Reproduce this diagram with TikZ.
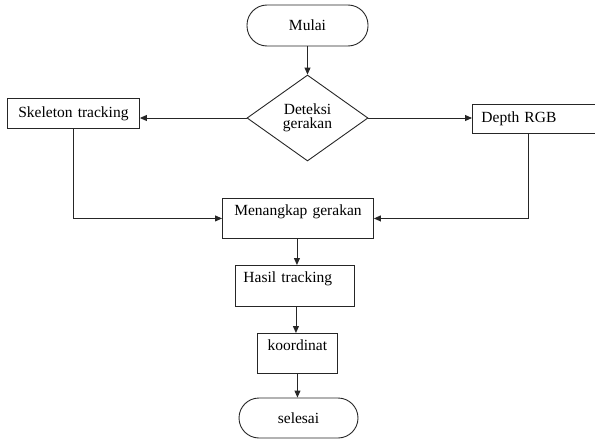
\documentclass[tikz,border=0pt]{standalone}
\usepackage{fontspec}
\setmainfont{Liberation Serif}
\usetikzlibrary{shapes.geometric,arrows.meta}
\begin{document}
\begin{tikzpicture}[x=1pt,y=-1pt,
  every node/.style={font=\fontsize{15.5}{14}\selectfont, text=black},
  line/.style={draw=black!85, line width=0.9pt},
  arr/.style={line, -{Triangle[length=7pt,width=6pt]}},
  box/.style={line, rectangle, anchor=north west, inner ysep=0pt, inner xsep=0pt},
  term/.style={line, rectangle, rounded corners=20pt, inner sep=0pt},
  dec/.style={line, diamond, inner sep=0pt, align=center}]
\useasboundingbox (0,0) rectangle (595,439);
\node[term, minimum width=121pt, minimum height=41pt] (mulai) at (307.5,25.5) {Mulai};
\node[dec, minimum width=121pt, minimum height=86pt] (det) at (307.5,118) {Deteksi\\gerakan};
\node[box, text width=132pt, align=center, text height=19pt, text depth=11pt] (skel) at (7,98) {Skeleton tracking};
\node[box, inner xsep=9pt, text width=110pt, align=left, text height=18pt, text depth=11pt] (depth) at (472,104) {Depth RGB};
\node[box, text width=151pt, align=center, text height=17pt, text depth=23pt] (men) at (222,198) {Menangkap gerakan};
\node[box, inner xsep=8pt, text width=103pt, align=left, text height=17pt, text depth=24pt] (hasil) at (235,265) {Hasil tracking};
\node[box, text width=80pt, align=center, text height=17pt, text depth=23pt] (koor) at (257,333) {koordinat};
\node[term, minimum width=119pt, minimum height=40pt] (sel) at (298.5,418) {selesai};
\draw[arr] (mulai.south) -- (det.north);
\draw[arr] (det.west) -- (det.west -| skel.east);
\draw[arr] (det.east) -- (det.east -| depth.west);
\draw[arr] (skel.south) |- (men.west);
\draw[arr] ([xshift=-8pt]depth.south) |- (men.east);
\draw[arr] ([xshift=-1pt]men.south) -- ([xshift=-1pt]men.south |- hasil.north);
\draw[arr] ([xshift=-2pt]men.south |- hasil.south) -- ([xshift=-2pt]men.south |- koor.north);
\draw[arr] (koor.south) -- (koor.south |- sel.north);
\end{tikzpicture}
\end{document}
